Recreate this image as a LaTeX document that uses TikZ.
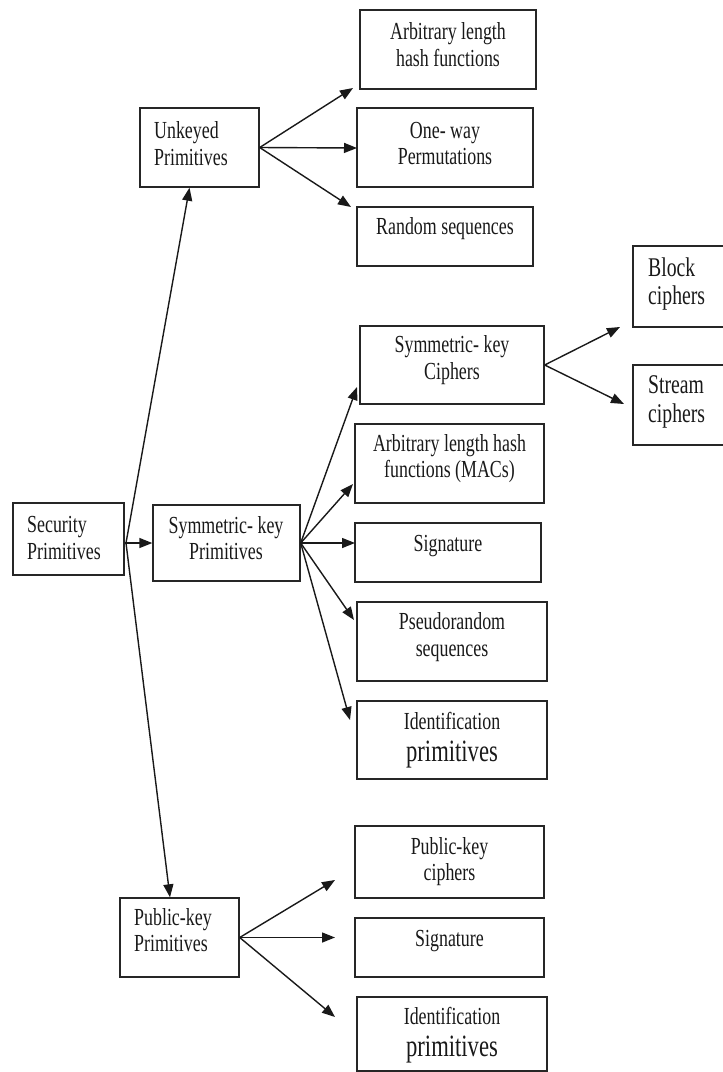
\documentclass[tikz,border=0pt]{standalone}
\usepackage{fontspec}
\setmainfont{Liberation Serif}[FakeStretch=0.73]
\usetikzlibrary{arrows.meta}
\newcommand{\txtfont}{\fontsize{24.5}{26.5}\selectfont}
\newcommand{\bigprim}{\fontsize{31}{31}\selectfont}
\newcommand{\midfont}{\fontsize{27}{28.5}\selectfont}
\begin{document}
\begin{tikzpicture}[x=1pt,y=-1pt,
  box/.style={draw=black!85, line width=1.4pt, inner sep=0pt},
  txt/.style={inner sep=0pt, font=\txtfont, align=center, text=black!90},
  ltxt/.style={inner sep=0pt, font=\txtfont, align=left, anchor=west, text=black!90},
  arr/.style={draw=black!90, line width=1.4pt, -{Triangle[length=13pt,width=10pt]}}]
\path[use as bounding box] (0,0) rectangle (723,1072);
\clip (0,0) rectangle (723,1072);
% boxes
\node[box, minimum width=111pt, minimum height=72pt] (sec) at (68.5,539) {};
\node[box, minimum width=147pt, minimum height=76pt] (sym) at (226.5,543) {};
\node[box, minimum width=119pt, minimum height=79pt] (unk) at (199.5,147.5) {};
\node[box, minimum width=119pt, minimum height=79pt] (pk) at (179.5,937.5) {};
\node[box, minimum width=176pt, minimum height=79pt] (ahf) at (448,49.5) {};
\node[box, minimum width=176pt, minimum height=79pt] (owp) at (445,147.5) {};
\node[box, minimum width=176pt, minimum height=59pt] (rs) at (445,236.5) {};
\node[box, minimum width=184pt, minimum height=78pt] (skc) at (452,365) {};
\node[box, minimum width=189pt, minimum height=79pt] (mac) at (449.5,463.5) {};
\node[box, minimum width=186pt, minimum height=59pt] (sig) at (448,552.5) {};
\node[box, minimum width=190pt, minimum height=79pt] (prs) at (452,641.5) {};
\node[box, minimum width=190pt, minimum height=78pt] (idp) at (452,740) {};
\node[box, minimum width=97pt, minimum height=81pt] (bc) at (681.5,286.5) {};
\node[box, minimum width=97pt, minimum height=80pt] (sc) at (681.5,405) {};
\node[box, minimum width=189pt, minimum height=72pt] (pkc) at (449.5,862) {};
\node[box, minimum width=189pt, minimum height=59pt] (pks) at (449.5,947.5) {};
\node[box, minimum width=190pt, minimum height=74pt] (pki) at (452,1034) {};
% texts
\node[ltxt] (secT) at (27,538) {Security\\Primitives};
\node[txt] (symT) at (226,538) {Symmetric- key\\Primitives};
\node[ltxt] (unkT) at (154,143.5) {Unkeyed\\Primitives};
\node[ltxt] (pkT) at (134,930) {Public-key\\Primitives};
\node[txt] (ahfT) at (448,44.5) {Arbitrary length\\hash functions};
\node[txt] (owpT) at (445,143.5) {One- way\\Permutations};
\node[txt] (rsT) at (445,229) {Random sequences};
\node[txt] (skcT) at (452,360) {Symmetric- key\\Ciphers};
\node[txt] (macT) at (449.5,458.5) {Arbitrary length hash\\functions (MACs)};
\node[txt] (sigT) at (448,546) {Signature};
\node[txt] (prsT) at (452,637) {Pseudorandom\\sequences};
\node[txt] (idpT) at (452,740) {Identification\\[5pt]\bigprim primitives};
\node[ltxt, font=\midfont] (bcT) at (648,284) {Block\\ciphers};
\node[ltxt, font=\midfont] (scT) at (648,402) {Stream\\ciphers};
\node[txt] (pkcT) at (449.5,861.5) {Public-key\\ciphers};
\node[txt] (pksT) at (449.5,941) {Signature};
\node[txt] (pkiT) at (452,1035) {Identification\\[5pt]\bigprim primitives};
% arrow end coordinates
\coordinate (hub) at (126,543);
\coordinate (u1) at (353,88);
\coordinate (u2) at (357,148);
\coordinate (u3) at (351,207);
\coordinate (s1) at (357,387);
\coordinate (s2) at (353,484);
\coordinate (s3) at (355,543);
\coordinate (s4) at (354,620);
\coordinate (s5) at (350,720);
\coordinate (c1) at (620,327);
\coordinate (c2) at (624,404);
\coordinate (p1) at (335,880);
\coordinate (p2) at (335,937.5);
\coordinate (p3) at (335,1017);
% connectors
\draw[arr] (sec.east |- sym.west) -- (sym.west);
\draw[arr] (hub) -- ([xshift=-10pt]unk.south);
\draw[arr] (hub) -- ([xshift=-9.5pt]pk.north);
\foreach \t in {u1,u2,u3} \draw[arr] (unk.east) -- (\t);
\foreach \t in {s1,s2,s3,s4,s5} \draw[arr] (sym.east) -- (\t);
\foreach \t in {c1,c2} \draw[arr] (skc.east) -- (\t);
\foreach \t in {p1,p2,p3} \draw[arr] (pk.east) -- (\t);
\end{tikzpicture}
\end{document}
